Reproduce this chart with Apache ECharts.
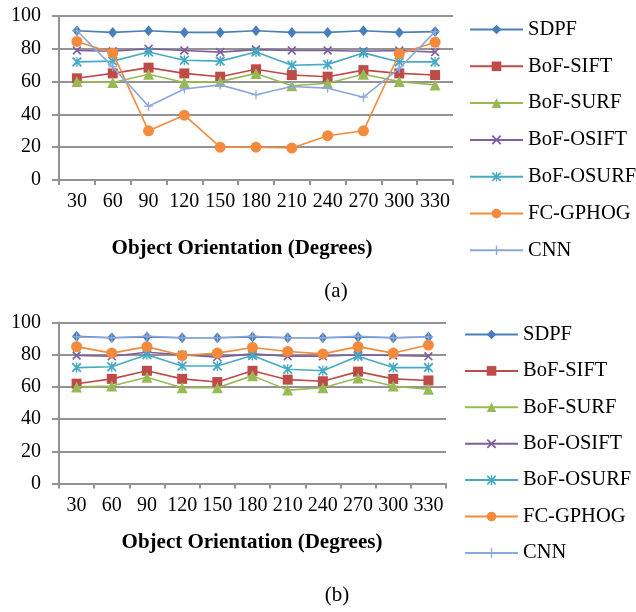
<!DOCTYPE html>
<html>
<head>
<meta charset="utf-8">
<script src="https://cdn.jsdelivr.net/npm/echarts@6/dist/echarts.min.js"></script>
<style>
html,body{margin:0;padding:0;background:#fff;}
#c{width:636px;height:612px;}
</style>
</head>
<body>
<div id="c"></div>
<script>
var categories = ['30','60','90','120','150','180','210','240','270','300','330'];
var seriesNames = ['SDPF','BoF-SIFT','BoF-SURF','BoF-OSIFT','BoF-OSURF','FC-GPHOG','CNN'];
var axisTitle = 'Object Orientation (Degrees)';

// Panel (a)
var sdpfA  = [91, 90, 91, 90, 90, 91, 90, 90, 91, 90, 90.5];
var siftA  = [62, 65, 68.5, 65, 63, 67.5, 64, 63, 67, 65, 64];
var surfA  = [60, 59.5, 64.5, 59.5, 60, 65, 57.5, 59, 64.5, 60, 58];
var osiftA = [79, 78.5, 80, 79, 78, 79.5, 79, 79, 78.5, 79, 78];
var osurfA = [72, 72.5, 78, 73, 72.5, 78, 70, 70.5, 77.5, 72, 72];
var gphogA = [84.5, 77.5, 30, 39.5, 20, 20, 19.5, 27, 30, 77, 84];
var cnnA   = [91, 69, 45, 55.5, 58, 52, 57, 56, 50.5, 68, 90.5];

// Panel (b)
var sdpfB  = [91.5, 90.5, 91, 90.5, 90.5, 91, 90.5, 90.5, 91, 90.5, 91];
var siftB  = [62, 65, 70, 65, 63, 70, 64.5, 63.5, 69.5, 65, 64];
var surfB  = [60, 60.5, 66, 59.5, 59.5, 67, 58, 59.5, 65.5, 60.5, 58.5];
var osiftB = [79.5, 79, 81.5, 80, 78.5, 80.5, 79, 79, 80, 79.5, 79];
var osurfB = [72, 72.5, 80, 73, 73, 79.5, 71, 70, 79, 72, 72];
var gphogB = [85, 81, 85, 79.5, 81, 84.5, 82, 80.5, 85, 81, 86];
var cnnB   = [91, 90.5, 91.5, 90.5, 90.5, 91.5, 90.5, 90.5, 91.5, 90.5, 91];

var dataA = [sdpfA, siftA, surfA, osiftA, osurfA, gphogA, cnnA];
var dataB = [sdpfB, siftB, surfB, osiftB, osurfB, gphogB, cnnB];

var colors = ['#4A7EBB', '#BE4B48', '#98B954', '#7D5FA0', '#46AAC5', '#F38A3C', '#8CA8D8'];
var X = 'path://M0,1.3 L1.3,0 L10,8.7 L8.7,10 Z M8.7,0 L10,1.3 L1.3,10 L0,8.7 Z';
var STAR = 'path://M0,1.3 L1.3,0 L10,8.7 L8.7,10 Z M8.7,0 L10,1.3 L1.3,10 L0,8.7 Z M4.35,0 L5.65,0 L5.65,10 L4.35,10 Z';
var PLUS = 'path://M4.3,0 L5.7,0 L5.7,10 L4.3,10 Z M0,4.3 L10,4.3 L10,5.7 L0,5.7 Z';
var symbols = ['diamond', 'rect', 'triangle', X, STAR, 'circle', PLUS];
var symSizes = [[9,11], 10, 11, 9, 10, 11, 9];

var FONT = 'Liberation Serif';
var gridColor = '#939393';

function mkSeries(data, idx) {
  return data.map(function (d, i) {
    return {
      name: seriesNames[i],
      type: 'line',
      xAxisIndex: idx, yAxisIndex: idx,
      data: d,
      symbol: symbols[i],
      symbolSize: symSizes[i],
      showAllSymbol: true,
      lineStyle: { color: colors[i], width: 1.6 },
      itemStyle: { color: colors[i] },
      emphasis: { disabled: true },
      animation: false,
      z: 2 + i
    };
  });
}

function xAx(idx) {
  return {
    type: 'category', gridIndex: idx, data: categories, boundaryGap: true,
    axisLine: { lineStyle: { color: gridColor, width: 2 } },
    axisTick: { show: true, length: 5, lineStyle: { color: gridColor, width: 2 }, alignWithLabel: false },
    axisLabel: { interval: 0, margin: 12, color: '#000', fontFamily: FONT, fontSize: 20 }
  };
}
function yAx(idx) {
  return {
    type: 'value', gridIndex: idx, min: 0, max: 100, interval: 20,
    axisLine: { show: true, lineStyle: { color: gridColor, width: 2 } },
    axisTick: { show: true, length: 7, lineStyle: { color: gridColor, width: 2 } },
    splitLine: { show: true, lineStyle: { color: gridColor, width: 2 } },
    axisLabel: { margin: 18, color: '#000', fontFamily: FONT, fontSize: 20 }
  };
}

function legend(left, top, gap) {
  return {
    orient: 'vertical', left: left, top: top, padding: 0,
    itemWidth: 53, itemHeight: 12, itemGap: gap,
    data: seriesNames,
    textStyle: { fontFamily: FONT, fontSize: 20.5, color: '#000', lineHeight: 20 },
    selectedMode: false
  };
}

var chart = echarts.init(document.getElementById('c'), null, { renderer: 'canvas' });
chart.setOption({
  animation: false,
  backgroundColor: '#fff',
  grid: [
    { left: 59, top: 16, width: 394, height: 164 },
    { left: 59, top: 322.5, width: 387, height: 161 }
  ],
  xAxis: [xAx(0), xAx(1)],
  yAxis: [yAx(0), yAx(1)],
  legend: [legend(469, 19, 15.8), legend(464, 324, 15.4)],
  title: [
    { text: axisTitle, left: 242, top: 238, textAlign: 'center', padding: 0,
      textStyle: { fontFamily: FONT, fontSize: 21, fontWeight: 'bold', color: '#000' } },
    { text: '(a)', left: 336, top: 281, textAlign: 'center', padding: 0,
      textStyle: { fontFamily: FONT, fontSize: 21, fontWeight: 'normal', color: '#000' } },
    { text: axisTitle, left: 252, top: 532, textAlign: 'center', padding: 0,
      textStyle: { fontFamily: FONT, fontSize: 21, fontWeight: 'bold', color: '#000' } },
    { text: '(b)', left: 337, top: 585, textAlign: 'center', padding: 0,
      textStyle: { fontFamily: FONT, fontSize: 21, fontWeight: 'normal', color: '#000' } }
  ],
  series: mkSeries(dataA, 0).concat(mkSeries(dataB, 1))
});
</script>
</body>
</html>
